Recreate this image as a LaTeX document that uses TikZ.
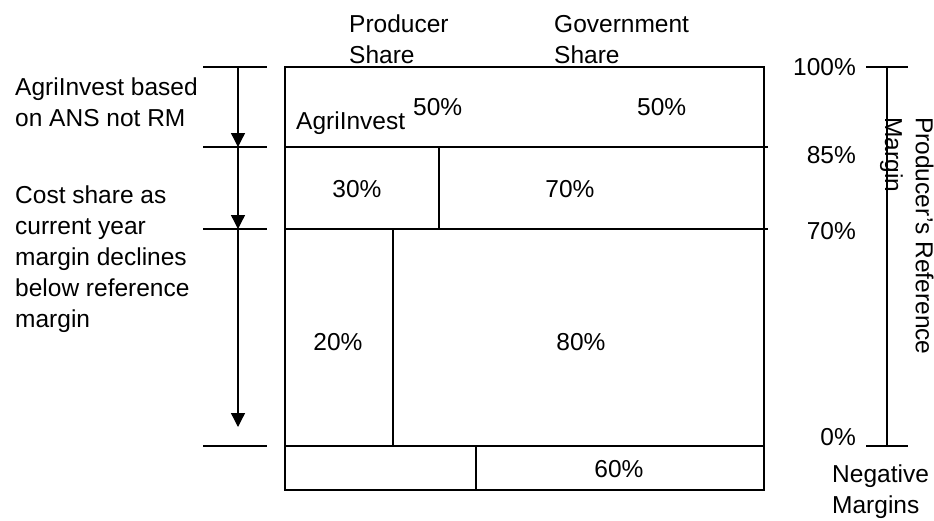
\documentclass[tikz,border=0pt]{standalone}
\usepackage{fontspec}
\setmainfont{Liberation Sans}
\usetikzlibrary{arrows.meta,positioning}

\tikzset{
  txt/.style={font=\fontsize{24.5}{30.8}\selectfont, inner sep=0pt, align=left},
  tickline/.style={line width=1.3pt},
  cell/.style={line width=1.5pt},
  downarrow/.style={line width=1.3pt, -{Triangle[width=14pt,length=14pt]}},
}

\begin{document}
\begin{tikzpicture}[x=1pt,y=-1pt]
    \useasboundingbox (0,0) rectangle (934,520);

    % Share table
    \draw[cell] (285,67) rectangle (764,490);
    \draw[cell] (285,147) -- (768,147);
    \draw[cell] (285,229) -- (768,229);
    \draw[cell] (285,446) -- (764,446);
    \draw[cell] (439,147) -- (439,229);
    \draw[cell] (393,229) -- (393,446);
    \draw[cell] (476,446) -- (476,490);

    % Column headings (base = last line)
    \node[txt, anchor=base west] (prodhead) at (349,63) {Producer\\Share};
    \node[txt, anchor=base west] (govhead) at (554,63) {Government\\Share};

    % Cell values
    \node[txt, anchor=base west] (agri) at (296,129) {AgriInvest};
    \node[txt, anchor=base west] (prod50) at (413,115) {50\%};
    \node[txt, anchor=base west] (gov50) at (637,115) {50\%};
    \node[txt, anchor=base] (prod30) at (357,197) {30\%};
    \node[txt, anchor=base] (gov70) at (570,197) {70\%};
    \node[txt, anchor=base] (prod20) at (338,350) {20\%};
    \node[txt, anchor=base] (gov80) at (581,350) {80\%};
    \node[txt, anchor=base] (gov60) at (619,477) {60\%};

    % Left ticks and arrows
    \foreach \y/\name in {67/a, 147/b, 229/c, 446/d} {
        \draw[tickline] (203,\y) -- (267,\y);
        \coordinate (tick\name) at (238,\y);
    }
    \coordinate (arrowend) at (238,427);
    \draw[downarrow] (ticka) -- (tickb);
    \draw[downarrow] (tickb) -- (tickc);
    \draw[downarrow] (tickc) -- (arrowend);

    % Left notes
    \node[txt, anchor=base west] (agrinote) at (15,126) {AgriInvest based\\on ANS not RM};
    \node[txt, anchor=base west] (costnote) at (15,327) {Cost share as\\current year\\margin declines\\below reference\\margin};

    % Reference margin scale
    \coordinate (top) at (887,67);
    \coordinate (bottom) at (887,446);
    \draw[tickline] (866,67) -- (908,67);
    \draw[tickline] (866,446) -- (908,446);
    \draw[tickline] (top) -- (bottom);
    \foreach \y/\lab in {67/100, 155/85, 231/70, 437/0} {
        \node[txt, anchor=east] (pct\lab) at (856,\y) {\lab\%};
    }
    \node[txt, rotate=-90, anchor=base west] (refmargin) at (885,117) {Producer's Reference\\Margin};
    \node[txt, anchor=base west] (negmargin) at (832,513) {Negative\\Margins};

\end{tikzpicture}
\end{document}
